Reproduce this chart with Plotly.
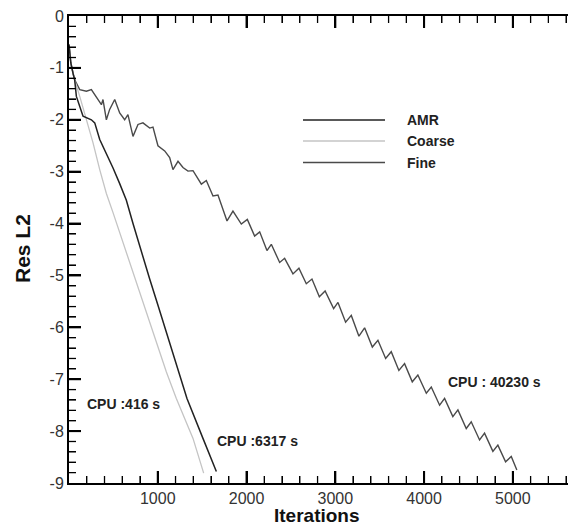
import plotly.graph_objects as go

# ---- data ----
fine_x = [0, 20, 45, 64, 121, 196, 252, 309, 365, 383, 421, 458, 515, 571, 627, 664, 721, 777, 833,
          909, 946, 1002, 1078, 1134, 1171, 1228, 1284, 1340, 1397, 1491, 1547, 1622, 1678, 1780, 1847,
          1941, 2009, 2091, 2148, 2230, 2279, 2373, 2429, 2523, 2590, 2673, 2737, 2820, 2885, 2981,
          3030, 3116, 3180, 3266, 3330, 3417, 3480, 3567, 3630, 3716, 3780, 3867, 3930, 4025, 4081,
          4175, 4231, 4324, 4381, 4475, 4531, 4625, 4681, 4775, 4831, 4918, 4982, 5045]
fine_y = [-0.55, -0.9, -1.1, -1.23, -1.42, -1.45, -1.42, -1.58, -1.71, -1.61, -2.0, -1.80, -1.61, -1.87,
          -2.0, -1.90, -2.32, -2.09, -2.06, -2.16, -2.14, -2.50, -2.60, -2.73, -2.96, -2.80, -2.92,
          -2.99, -2.98, -3.24, -3.17, -3.47, -3.45, -3.95, -3.76, -4.01, -3.92, -4.24, -4.16, -4.52,
          -4.40, -4.75, -4.67, -4.97, -4.86, -5.16, -5.07, -5.41, -5.30, -5.64, -5.52, -5.90, -5.77,
          -6.17, -6.01, -6.38, -6.25, -6.60, -6.47, -6.83, -6.70, -7.05, -6.92, -7.27, -7.15, -7.50,
          -7.37, -7.72, -7.59, -7.95, -7.82, -8.17, -8.04, -8.39, -8.27, -8.59, -8.49, -8.75]

amr_x = [0, 20, 45, 64, 83, 140, 158, 252, 290, 346, 421, 496, 571, 646, 721, 815, 909, 1003, 1097,
         1190, 1284, 1329, 1509, 1660]
amr_y = [-0.55, -0.9, -1.1, -1.23, -1.55, -1.87, -1.93, -2.0, -2.06, -2.38, -2.64, -2.93, -3.23, -3.55,
         -4.0, -4.55, -5.07, -5.58, -6.09, -6.60, -7.12, -7.37, -8.14, -8.78]

coarse_x = [0, 20, 45, 64, 121, 196, 270, 346, 421, 496, 646, 796, 946, 1097, 1209, 1397, 1517]
coarse_y = [-0.55, -0.9, -1.1, -1.23, -1.55, -2.0, -2.44, -2.96, -3.42, -3.79, -4.55, -5.32, -6.09,
            -6.86, -7.37, -8.14, -8.81]

series_names = ["AMR", "Coarse", "Fine"]
series_colors = ["#222222", "#c4c4c4", "#4a4a4a"]

cpu_labels = ["CPU :416 s", "CPU :6317 s", "CPU : 40230 s"]
cpu_x = [175, 1640, 4250]
cpu_y = [-7.48, -8.19, -7.05]

x_ticks = [1000, 2000, 3000, 4000, 5000]
y_ticks = [0, -1, -2, -3, -4, -5, -6, -7, -8, -9]
x_minor_step = 200
y_minor_step = 0.2

FONT = "Arial"

# the page body has an 8px margin: the figure is sized to fill the rest of the window
W, H = 568, 518
ML, MR, MT, MB = 61, 1, 8, 43
PW, PH = W - ML - MR, H - MT - MB
X_MAX, Y_MIN, Y_MAX = 5700, -9, 0
UX = X_MAX / PW              # data units per pixel (x)
UY = (Y_MAX - Y_MIN) / PH    # data units per pixel (y)

fig = go.Figure()
fig.add_trace(go.Scatter(x=fine_x, y=fine_y, mode="lines", name=series_names[2],
                         line=dict(color=series_colors[2], width=1.4)))
fig.add_trace(go.Scatter(x=coarse_x, y=coarse_y, mode="lines", name=series_names[1],
                         line=dict(color=series_colors[1], width=1.3)))
fig.add_trace(go.Scatter(x=amr_x, y=amr_y, mode="lines", name=series_names[0],
                         line=dict(color=series_colors[0], width=1.5)))

# inward tick marks on the four sides, drawn as line segments on the axes' own scales
x_minor = [k * x_minor_step for k in range(1, int(X_MAX / x_minor_step) + 1)
           if (k * x_minor_step) % 1000 != 0]
y_minor = [round(-k * y_minor_step, 1) for k in range(1, int(-Y_MIN / y_minor_step))
           if round(k * y_minor_step, 1) % 1 != 0]


def tick_segments(xv, yv, xlen, ylen, right_len):
    sx, sy = [], []
    for v in xv:
        sx += [v, v, None, v, v, None]
        sy += [Y_MIN, Y_MIN + xlen * UY, None, Y_MAX - xlen * UY, Y_MAX, None]
    for v in yv:
        sx += [0, ylen * UX, None]
        sy += [v, v, None]
        if right_len:
            sx += [X_MAX - right_len * UX, X_MAX, None]
            sy += [v, v, None]
    return sx, sy


mx, my = tick_segments(x_ticks, y_ticks[1:-1], 12, 12, 6)
nx, ny = tick_segments(x_minor, y_minor, 7, 7, 0)
fig.add_trace(go.Scatter(x=mx, y=my, mode="lines", hoverinfo="skip", showlegend=False,
                         connectgaps=False, line=dict(color="#000000", width=2)))
fig.add_trace(go.Scatter(x=nx, y=ny, mode="lines", hoverinfo="skip", showlegend=False,
                         connectgaps=False, line=dict(color="#000000", width=1.3)))


def px_x(p):  # window pixel -> paper x
    return (p - 8 - ML) / PW


def px_y(p):  # window pixel -> paper y
    return (8 + MT + PH - p) / PH


# legend drawn as in the original (long line samples)
leg_px = [120, 141, 162.5]
for name, col, yy in zip(series_names, series_colors, leg_px):
    fig.add_shape(type="line", xref="paper", yref="paper", x0=px_x(303), x1=px_x(385),
                  y0=px_y(yy), y1=px_y(yy), line=dict(color=col, width=1.6))
    fig.add_annotation(xref="paper", yref="paper", x=px_x(405), y=px_y(yy), text="<b>" + name + "</b>",
                       showarrow=False, xanchor="left", yanchor="middle",
                       font=dict(family=FONT, size=14, color="#222222"))

for t, xx, yy in zip(cpu_labels, cpu_x, cpu_y):
    fig.add_annotation(x=xx, y=yy, text="<b>" + t + "</b>", showarrow=False, xanchor="left",
                       yanchor="middle", font=dict(family=FONT, size=14, color="#222222"))

# axis titles
fig.add_annotation(xref="paper", yref="paper", x=px_x(317), y=px_y(515), text="<b>Iterations</b>",
                   showarrow=False, xanchor="center", yanchor="middle",
                   font=dict(family=FONT, size=19, color="#111111"))
fig.add_annotation(xref="paper", yref="paper", x=px_x(22), y=px_y(249), text="<b>Res L2</b>",
                   textangle=-90, showarrow=False, xanchor="center", yanchor="middle",
                   font=dict(family=FONT, size=21, color="#111111"))

fig.update_xaxes(range=[0, X_MAX], tickvals=x_ticks, ticktext=[str(v) for v in x_ticks],
                 showline=True, linecolor="#000000", linewidth=2, mirror="ticks",
                 ticks="inside", ticklen=12, tickwidth=2, tickcolor="#000000",
                 minor=dict(ticks="inside", dtick=x_minor_step, ticklen=7, tickwidth=1.3,
                            tickcolor="#000000"),
                 showgrid=False, zeroline=False, automargin=False,
                 ticklabeloverflow="allow",
                 tickfont=dict(family=FONT, size=16, color="#333333"))
fig.update_yaxes(range=[Y_MIN, Y_MAX], tickvals=y_ticks, ticktext=[str(v) for v in y_ticks],
                 showline=True, linecolor="#000000", linewidth=2, mirror=True,
                 ticks="inside", ticklen=12, tickwidth=2, tickcolor="#000000",
                 minor=dict(ticks="inside", dtick=y_minor_step, ticklen=7, tickwidth=1.3,
                            tickcolor="#000000"),
                 showgrid=False, zeroline=False, automargin=False,
                 ticklabeloverflow="allow",
                 tickfont=dict(family=FONT, size=16, color="#333333"))

fig.update_layout(width=W, height=H, margin=dict(l=ML, r=MR, t=MT, b=MB, autoexpand=False),
                  plot_bgcolor="white", paper_bgcolor="white", showlegend=False)

fig.write_html("out.html")
